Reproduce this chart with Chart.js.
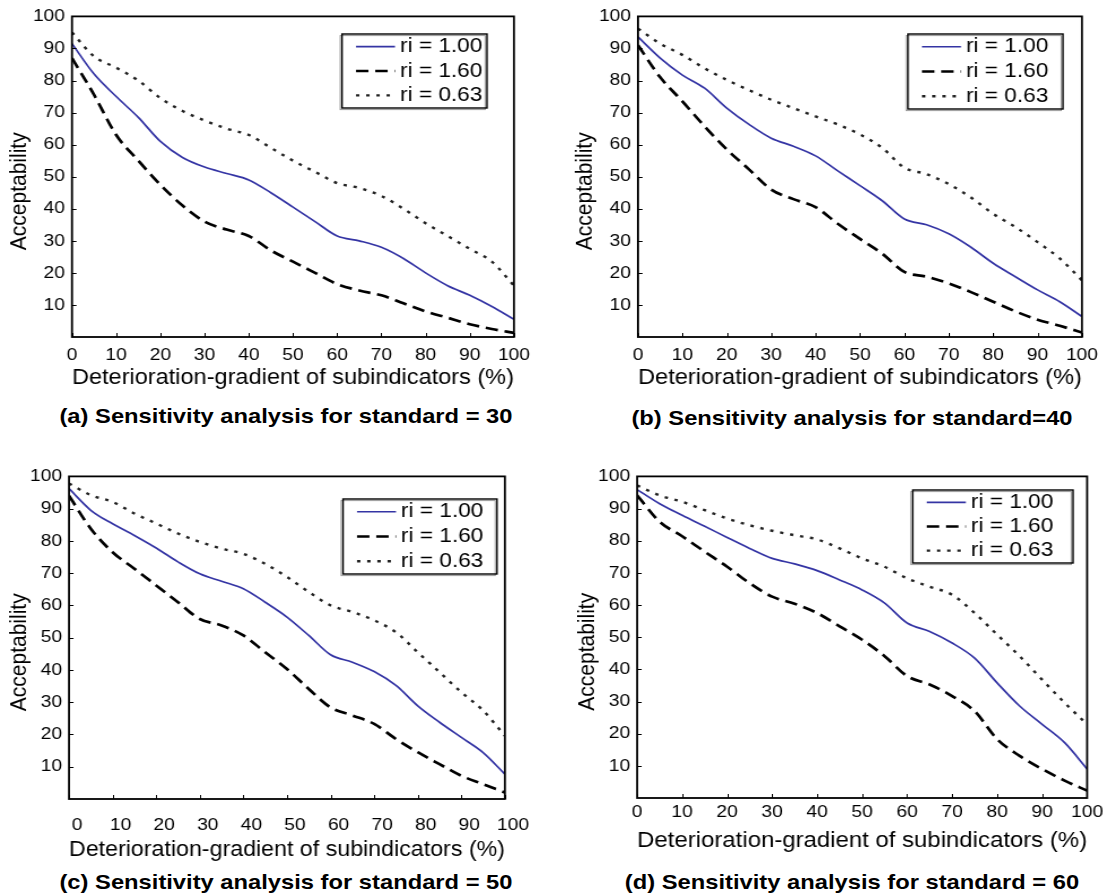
<!DOCTYPE html>
<html>
<head>
<meta charset="utf-8">
<script src="https://cdn.jsdelivr.net/npm/chart.js@4.4.1/dist/chart.umd.min.js"></script>
<style>
    body {margin: 0; background: #fff; font-family: "Liberation Sans", Arial, sans-serif;}
    #page {position: relative; width: 1103px; height: 894px; overflow: hidden;}
    .panel {position: absolute; transform-origin: 0 0;}
    .caption {position: absolute; width: 600px; height: 26px; line-height: 26px; text-align: center;
        font-weight: bold; font-size: 21px; color: #000; white-space: nowrap; transform-origin: 50% 50%;}
</style>
</head>
<body>
<div id="page"></div>
<script>
// x positions (deterioration-gradient, %) shared by every panel
const gradient = [0, 5, 10, 15, 20, 25, 30, 35, 40, 45, 50, 55, 60, 65, 70, 75, 80, 85, 90, 95, 100];
const xTickValues = [0, 10, 20, 30, 40, 50, 60, 70, 80, 90, 100];
const yTickValues = [10, 20, 30, 40, 50, 60, 70, 80, 90, 100];
const seriesLabels = ["ri = 1.00", "ri = 1.60", "ri = 0.63"];

// (a) standard = 30
const accA_r100 = [91.5, 82, 75, 68.5, 61, 56, 53, 51, 49, 45, 40.5, 36, 31.5, 30, 28, 24.5, 20, 16, 13, 9.5, 5.5];
const accA_r160 = [87, 75.5, 63, 55, 47.5, 41, 36, 33.5, 31.5, 27, 23.5, 20, 16.5, 14.5, 13, 10.5, 8, 6, 4, 2.5, 1.3];
const accA_r063 = [95, 87.5, 84, 80, 74.5, 70.5, 67.5, 65, 63, 59, 55, 51.5, 48, 46.5, 44, 40, 35.5, 31.5, 27.5, 23.5, 16];

// (b) standard = 40
const accB_r100 = [93.6, 87, 81.7, 77.6, 71.4, 66.3, 62, 59.5, 56.5, 51.8, 47.2, 42.5, 36.8, 35, 32.2, 28, 23, 18.8, 14.7, 11, 6.4];
const accB_r160 = [91, 81, 73.5, 65.7, 58.5, 52.3, 46, 43, 40.5, 35.3, 30.6, 26, 20.3, 18.8, 16.7, 14, 11, 8, 5.4, 3.5, 1.4];
const accB_r063 = [96.2, 91.5, 88, 83.8, 80.2, 77, 74, 71.4, 68.8, 66.3, 63.2, 59, 52.8, 50.8, 47.7, 43.5, 38.4, 34.3, 29.6, 24.5, 17.7];

// (c) standard = 50
const accC_r100 = [96.2, 89.5, 85.3, 81.7, 77.8, 73.5, 69.8, 67.5, 65.2, 61, 56.4, 50.7, 44.7, 42.4, 39.5, 35.2, 28.9, 23.8, 19.1, 14.4, 7.7];
const accC_r160 = [94, 83.8, 76.5, 71.4, 66.2, 61, 55.8, 53.8, 50.7, 45.5, 40.3, 34.1, 28.4, 25.9, 23.3, 18.6, 14.5, 10.8, 7.2, 4.6, 2];
const accC_r063 = [97.8, 94.2, 92.1, 88.5, 85.4, 82.3, 79.7, 77.6, 76, 72.9, 68.8, 64.2, 60, 58, 55.4, 51.7, 45.5, 39.3, 33.1, 27.4, 19.6];

// (d) standard = 60
const accD_r100 = [95.9, 91.5, 87.9, 84.5, 81, 77.6, 74.5, 72.8, 70.7, 67.8, 64.7, 60.6, 54.4, 51.8, 48.2, 43.5, 35.8, 28.6, 22.9, 17.2, 9];
const accD_r160 = [94.1, 85.9, 81.4, 76.6, 71.9, 66.8, 62.6, 60.4, 57.5, 53.4, 49.2, 44.1, 37.9, 35.3, 31.7, 27, 18.3, 13.1, 9, 5.4, 2.3];
const accD_r063 = [97.2, 94.1, 92.1, 89.5, 86.9, 84.8, 83.1, 81.7, 80.4, 77.6, 74.5, 71.9, 68.3, 65.7, 63.2, 57.5, 50.8, 44.1, 36.8, 29.6, 22.9];

// the original figure is stretched sideways, so every panel is drawn narrow and scaled in x
const STRETCH = 1.13;
const FONT = "'Liberation Sans', Arial, sans-serif";

const panels = [
    {caption: "(a) Sensitivity analysis for standard = 30", series: [accA_r100, accA_r160, accA_r063],
        left: 0, top: 0, plotL: 72, plotR: 517, plotT: 15, plotB: 337, yTitleX: 20,
        xLabelPad: 8, labelOffset: 0, xTitleY: 378, capX: 286, capY: 416, legend: [342, 34, 487, 108]},
    {caption: "(b) Sensitivity analysis for standard=40", series: [accB_r100, accB_r160, accB_r063],
        left: 568, top: 0, plotL: 638, plotR: 1085, plotT: 15, plotB: 337, yTitleX: 585,
        xLabelPad: 8, labelOffset: 0, xTitleY: 378, capX: 852, capY: 418, legend: [908, 34, 1063, 109]},
    {caption: "(c) Sensitivity analysis for standard = 50", series: [accC_r100, accC_r160, accC_r063],
        left: 0, top: 460, plotL: 69, plotR: 517, plotT: 475, plotB: 799, yTitleX: 20,
        xLabelPad: 16, labelOffset: 8, xTitleY: 850, capX: 286, capY: 882, legend: [343, 499, 497, 574]},
    {caption: "(d) Sensitivity analysis for standard = 60", series: [accD_r100, accD_r160, accD_r063],
        left: 568, top: 460, plotL: 637, plotR: 1086, plotT: 475, plotB: 798, yTitleX: 587,
        xLabelPad: 4, labelOffset: 0, xTitleY: 841, capX: 852, capY: 882, legend: [912, 490, 1072, 563]},
];

const lineStyles = [
    {borderColor: "#3434a4", borderWidth: 1.7, borderDash: []},
    {borderColor: "#000000", borderWidth: 2.7, borderDash: [11, 6]},
    {borderColor: "#222222", borderWidth: 2.4, borderDash: [3, 6]},
];

// box round the plot plus small inward tick marks
const framePlugin = {
    id: "frame",
    afterDatasetsDraw(chart) {
        const {ctx, chartArea: a, scales: {x, y}} = chart;
        ctx.save();
        ctx.strokeStyle = "#000";
        ctx.lineWidth = 1;
        ctx.beginPath();
        x.ticks.forEach(t => {
            const px = Math.round(x.getPixelForValue(t.value)) + 0.5;
            ctx.moveTo(px, a.bottom);
            ctx.lineTo(px, a.bottom - 4);
        });
        y.ticks.forEach(t => {
            const py = Math.round(y.getPixelForValue(t.value)) + 0.5;
            ctx.moveTo(a.left, py);
            ctx.lineTo(a.left + 4, py);
        });
        ctx.stroke();
        ctx.lineWidth = 1.8;
        ctx.strokeRect(a.left, a.top, a.right - a.left, a.bottom - a.top);
        ctx.restore();
    }
};

// boxed legend inside the plot, drawn from the datasets
const legendPlugin = {
    id: "boxLegend",
    afterDraw(chart, args, opts) {
        if (!opts.box) return;
        const {ctx} = chart;
        const [x0, y0, x1, y1] = opts.box;
        const h = y1 - y0;
        ctx.save();
        ctx.fillStyle = "#fff";
        ctx.fillRect(x0, y0, x1 - x0, h);
        ctx.strokeStyle = "#999";
        ctx.lineWidth = 1;
        ctx.strokeRect(x0 - 1.6, y0 + 1.6, x1 - x0, h);
        ctx.strokeStyle = "#000";
        ctx.lineWidth = 1.4;
        ctx.strokeRect(x0, y0, x1 - x0, h);
        ctx.font = "20px " + FONT;
        ctx.textBaseline = "middle";
        ctx.fillStyle = "#000";
        chart.data.datasets.forEach((ds, i) => {
            const cy = y0 + h * (0.17 + 0.33 * i);
            ctx.beginPath();
            ctx.strokeStyle = ds.borderColor;
            ctx.lineWidth = ds.borderWidth;
            ctx.setLineDash(ds.borderDash);
            ctx.moveTo(x0 + opts.sampleStart, cy);
            ctx.lineTo(x0 + opts.sampleEnd, cy);
            ctx.stroke();
            ctx.setLineDash([]);
            ctx.fillText(ds.label, x0 + opts.textStart, cy);
        });
        ctx.restore();
    }
};

const page = document.getElementById("page");

panels.forEach(p => {
    const pageW = p.plotR + 22 - p.left;
    const pageH = p.xTitleY + 13 - p.top;
    const W = pageW / STRETCH;

    const wrap = document.createElement("div");
    wrap.className = "panel";
    wrap.style.left = p.left + "px";
    wrap.style.top = p.top + "px";
    wrap.style.width = W + "px";
    wrap.style.height = pageH + "px";
    wrap.style.transform = `scaleX(${STRETCH})`;
    const canvas = document.createElement("canvas");
    wrap.appendChild(canvas);
    page.appendChild(wrap);

    const cap = document.createElement("div");
    cap.className = "caption";
    cap.textContent = p.caption;
    cap.style.left = (p.capX - 300) + "px";
    cap.style.top = (p.capY - 13) + "px";
    cap.style.transform = `scaleX(${STRETCH})`;
    page.appendChild(cap);

    const yAxisW = (p.plotL - p.left) / STRETCH;
    const xAxisH = p.top + pageH - p.plotB;
    const box = [
        (p.legend[0] - p.left) / STRETCH, p.legend[1] - p.top,
        (p.legend[2] - p.left) / STRETCH, p.legend[3] - p.top
    ];

    new Chart(canvas, {
        type: "line",
        data: {
            datasets: p.series.map((values, i) => ({
                label: seriesLabels[i],
                data: values.map((v, k) => ({x: gradient[k], y: v})),
                ...lineStyles[i],
                pointRadius: 0,
                fill: false,
                cubicInterpolationMode: "monotone",
            }))
        },
        options: {
            responsive: true,
            maintainAspectRatio: false,
            animation: false,
            layout: {padding: {left: 0, top: p.plotT - p.top, right: 22 / STRETCH, bottom: 0}},
            plugins: {
                legend: {display: false},
                tooltip: {enabled: false},
                boxLegend: {box: box, sampleStart: 14 / STRETCH, sampleEnd: 53 / STRETCH, textStart: 58 / STRETCH},
            },
            scales: {
                x: {
                    type: "linear",
                    min: 0,
                    max: 100,
                    afterBuildTicks: scale => {
                        scale.ticks = xTickValues.map(v => ({value: v}));
                    },
                    afterFit: scale => {
                        scale.height = xAxisH;
                    },
                    grid: {display: false, drawTicks: false},
                    border: {display: false},
                    ticks: {
                        color: "#000",
                        font: {family: FONT, size: 17},
                        padding: p.xLabelPad,
                        labelOffset: p.labelOffset / STRETCH,
                        maxRotation: 0,
                        autoSkip: false,
                    },
                    title: {
                        display: true,
                        text: "Deterioration-gradient of subindicators (%)",
                        color: "#000",
                        font: {family: FONT, size: 21.7},
                        padding: {top: 0, bottom: 0},
                    },
                },
                y: {
                    type: "linear",
                    min: 0,
                    max: 100,
                    afterBuildTicks: scale => {
                        scale.ticks = yTickValues.map(v => ({value: v}));
                    },
                    afterFit: scale => {
                        scale.width = yAxisW;
                    },
                    grid: {display: false, drawTicks: false},
                    border: {display: false},
                    ticks: {
                        color: "#000",
                        font: {family: FONT, size: 17},
                        padding: 7 / STRETCH,
                        autoSkip: false,
                    },
                    title: {
                        display: true,
                        // trailing spaces push the word a little below the middle, as in the figure
                        text: "Acceptability     ",
                        color: "#000",
                        font: {family: FONT, size: 21},
                        padding: {top: (p.yTitleX - p.left) / STRETCH - 12.6, bottom: 0},
                    },
                },
            },
        },
        plugins: [framePlugin, legendPlugin],
    });
});
</script>
</body>
</html>
